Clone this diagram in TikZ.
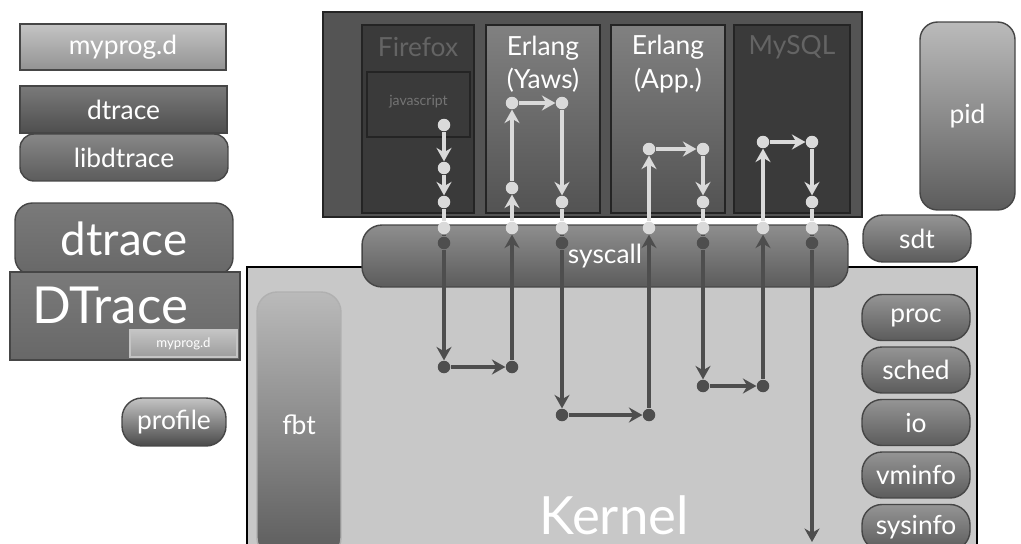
\documentclass[tikz,border=0pt]{standalone}
\usepackage{fontspec}
\setmainfont{Lato}
\usetikzlibrary{arrows.meta, positioning, calc}

\definecolor{boxlight}{RGB}{196, 196, 196}
\definecolor{boxmid}{RGB}{122, 122, 122}
\definecolor{boxdark}{RGB}{92, 92, 92}
\definecolor{boxedge}{RGB}{70, 70, 70}
\definecolor{appbg}{RGB}{84, 84, 84}
\definecolor{appoff}{RGB}{58, 58, 58}
\definecolor{appedge}{RGB}{36, 36, 36}
\definecolor{dimtext}{RGB}{100, 100, 100}
\definecolor{kernelbg}{RGB}{200, 200, 200}
\definecolor{wirelight}{RGB}{218, 218, 218}
\definecolor{wiredark}{RGB}{78, 78, 78}

\begin{document}
\begin{tikzpicture}[x=0.02cm, y=-0.02cm,
  lbl/.style={text=white, font=\fontsize{15}{19}\selectfont},
  graybox/.style={draw=boxedge, line width=0.8pt, top color=boxmid!80!white, bottom color=boxdark, lbl},
  probebox/.style={graybox, rounded corners=0.4cm, minimum width=2.16cm, minimum height=0.92cm},
  appcol/.style={draw=appedge, line width=1.2pt, minimum height=3.76cm},
  apptitle/.style={lbl, align=center},
  lightdot/.style={circle, fill=wirelight, inner sep=0pt, minimum size=0.25cm},
  darkdot/.style={circle, fill=wiredark, inner sep=0pt, minimum size=0.25cm},
  lightwire/.style={wirelight, line width=1.8pt},
  darkwire/.style={wiredark, line width=1.8pt},
  tip/.style={-{Stealth[length=0.27cm, width=0.3cm]}}
]
  \useasboundingbox (0,0) rectangle (1021,544);
  \clip (0,0) rectangle (1021,544);

  % DTrace consumer stack (left)
  \node[graybox, top color=boxlight, bottom color=boxlight!75!black, minimum width=4.12cm, minimum height=0.92cm] (myprog) at (123,47) {myprog.d};
  \node[graybox, top color=boxmid, bottom color=boxdark!85!black, minimum width=4.14cm, minimum height=0.94cm] (dtracecmd) at (123.5,109.5) {dtrace};
  \node[graybox, rounded corners=0.28cm, top color=boxmid!90!white, bottom color=boxdark, minimum width=4.16cm, minimum height=0.94cm] (libdtrace) at (124,157.5) {libdtrace};
  \node[graybox, rounded corners=0.35cm, top color=boxmid, bottom color=boxmid!85!black, minimum width=4.36cm, minimum height=1.44cm, font=\fontsize{26}{30}\selectfont] (dtracedrv) at (124,239) {dtrace};
  \node[graybox, top color=boxmid, bottom color=boxmid!85!black, minimum width=4.6cm, minimum height=1.76cm] (dtraceframe) at (125,316) {};
  \node[lbl, font=\fontsize{29}{32}\selectfont] (dtracetext) at (110,305) {DTrace};
  \node[graybox, draw=boxlight, top color=boxlight, bottom color=boxlight!80!black, minimum width=2.14cm, minimum height=0.54cm, font=\fontsize{7.5}{9}\selectfont] (smallprog) at (183.5,343.5) {myprog.d};
  \node[graybox, rounded corners=0.4cm, top color=boxlight, bottom color=boxdark!80!black, minimum width=2.08cm, minimum height=0.96cm] (profile) at (174,422) {profile};

  % Kernel
  \draw[draw=black, line width=1.4pt, fill=kernelbg] (247,267) rectangle (977,560);
  \node[graybox, draw=boxlight!90!black, rounded corners=0.4cm, top color=boxlight!95!black, bottom color=boxdark, minimum width=1.68cm, minimum height=5.32cm] (fbt) at (299,425) {fbt};
  \node[lbl, font=\fontsize{30}{34}\selectfont] (kernel) at (614,515) {Kernel};
  \node[probebox] (proc) at (916,317.5) {proc};
  \node[probebox] (sched) at (916,370) {sched};
  \node[probebox] (io) at (916,422.5) {io};
  \node[probebox] (vminfo) at (916,475) {vminfo};
  \node[probebox] (sysinfo) at (916,527.5) {sysinfo};

  % User-land applications
  \draw[draw=appedge, line width=0.8pt, fill=appbg] (323,12) rectangle (862,217);
  \node[appcol, fill=appoff, minimum width=2.24cm] (firefox) at (418,119) {};
  \node[appcol, top color=boxmid!95!white, bottom color=boxdark!90!black, minimum width=2.28cm] (yaws) at (543,119) {};
  \node[appcol, top color=boxmid!95!white, bottom color=boxdark!90!black, minimum width=2.28cm] (erlapp) at (668,119) {};
  \node[appcol, fill=appoff, minimum width=2.32cm] (mysql) at (792,119) {};
  \node[appcol, fill=appoff, minimum width=2.06cm, minimum height=1.3cm] (jsbox) at (418.5,104.5) {};
  \node[apptitle, text=dimtext] (fftitle) at (418,47) {Firefox};
  \node[lbl, text=dimtext!90!white, font=\fontsize{8}{10}\selectfont] (jstitle) at (418.5,102) {javascript};
  \node[apptitle] (yawstitle) at (543,64) {Erlang\\(Yaws)};
  \node[apptitle] (apptitle) at (668,64) {Erlang\\(App.)};
  \node[apptitle, text=dimtext] (sqltitle) at (792,47) {MySQL};

  % Probe providers (right)
  \node[graybox, rounded corners=0.35cm, top color=boxlight!95!black, bottom color=boxdark, minimum width=1.9cm, minimum height=3.76cm] (pid) at (967.5,116) {pid};
  \node[probebox, minimum height=0.94cm] (sdt) at (917,238.5) {sdt};

  % System call layer
  \node[graybox, rounded corners=0.4cm, top color=boxmid!85!white, bottom color=boxdark, minimum width=9.72cm, minimum height=1.24cm] (syscall) at (605,256) {syscall};

  % Probe points
  \node[lightdot] (a1) at (444,125) {};
  \node[lightdot] (a2) at (444,168) {};
  \node[lightdot] (a3) at (444,202) {};
  \node[lightdot] (a4) at (444,228) {};
  \node[darkdot] (a5) at (444,243) {};
  \node[darkdot] (a6) at (444,367) {};
  \node[darkdot] (b1) at (512,367) {};
  \node[lightdot] (b2) at (512,228) {};
  \node[lightdot] (b3) at (512,188) {};
  \node[lightdot] (b4) at (512,103) {};
  \node[lightdot] (c1) at (562,103) {};
  \node[lightdot] (c2) at (562,202) {};
  \node[lightdot] (c3) at (562,228) {};
  \node[darkdot] (c4) at (562,243) {};
  \node[darkdot] (c5) at (562,415) {};
  \node[darkdot] (d1) at (649,415) {};
  \node[lightdot] (d2) at (649,228) {};
  \node[lightdot] (d3) at (649,149) {};
  \node[lightdot] (e1) at (703,149) {};
  \node[lightdot] (e2) at (703,202) {};
  \node[lightdot] (e3) at (703,228) {};
  \node[darkdot] (e4) at (703,243) {};
  \node[darkdot] (e5) at (703,386) {};
  \node[darkdot] (f1) at (763,386) {};
  \node[lightdot] (f2) at (763,228) {};
  \node[lightdot] (f3) at (763,142) {};
  \node[lightdot] (g1) at (812,142) {};
  \node[lightdot] (g2) at (812,202) {};
  \node[lightdot] (g3) at (812,228) {};
  \node[darkdot] (g4) at (812,243) {};
  \coordinate (g5) at (812,542);

  % Request path
  \draw[lightwire, tip] (a1) -- (a2);
  \draw[lightwire, tip] (a2) -- (a3);
  \draw[lightwire] (a3) -- (a4);
  \draw[darkwire] (a4) -- (a5);
  \draw[darkwire, tip] (a5) -- (a6);
  \draw[darkwire, tip] (a6) -- (b1);
  \draw[darkwire, tip] (b1) -- (b2);
  \draw[lightwire, tip] (b2) -- (b3);
  \draw[lightwire, tip] (b3) -- (b4);
  \draw[lightwire, tip] (b4) -- (c1);
  \draw[lightwire, tip] (c1) -- (c2);
  \draw[lightwire] (c2) -- (c3);
  \draw[darkwire] (c3) -- (c4);
  \draw[darkwire, tip] (c4) -- (c5);
  \draw[darkwire, tip] (c5) -- (d1);
  \draw[darkwire, tip] (d1) -- (d2);
  \draw[lightwire, tip] (d2) -- (d3);
  \draw[lightwire, tip] (d3) -- (e1);
  \draw[lightwire, tip] (e1) -- (e2);
  \draw[lightwire] (e2) -- (e3);
  \draw[darkwire] (e3) -- (e4);
  \draw[darkwire, tip] (e4) -- (e5);
  \draw[darkwire, tip] (e5) -- (f1);
  \draw[darkwire, tip] (f1) -- (f2);
  \draw[lightwire, tip] (f2) -- (f3);
  \draw[lightwire, tip] (f3) -- (g1);
  \draw[lightwire, tip] (g1) -- (g2);
  \draw[lightwire] (g2) -- (g3);
  \draw[darkwire] (g3) -- (g4);
  \draw[darkwire, tip] (g4) -- (g5);
\end{tikzpicture}
\end{document}
